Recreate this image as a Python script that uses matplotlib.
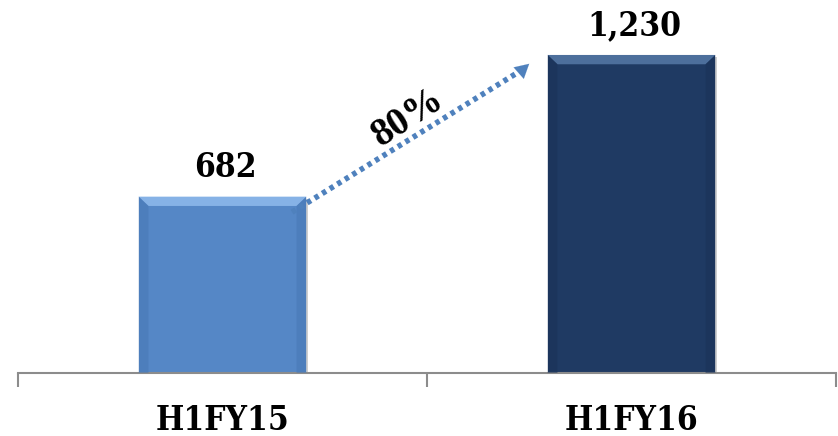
# Half-year comparison bar chart with growth arrow
import numpy as np
import matplotlib.pyplot as plt
from matplotlib.patches import Polygon, Rectangle

categories = ["H1FY15", "H1FY16"]
values = [682, 1230]
value_labels = ["682", "1,230"]

bar_colors = ["#5587c6", "#1f3a63"]
bevel_top = ["#86b2e6", "#4d6f9c"]
bevel_side = ["#4676b3", "#1a3257"]
arrow_color = "#4f81bd"

growth = (values[1] / values[0] - 1) * 100

fig = plt.figure(figsize=(8.38, 4.36), dpi=100)
ax = fig.add_axes([18 / 838, 63 / 436, 818 / 838, 362 / 436])

x = np.arange(len(categories))
width = 0.41
bars = ax.bar(x, values, width=width, color=bar_colors, zorder=2)

# bevel edges and soft shadow on each bar
bx = 0.024
by = 36
for i, b in enumerate(bars):
    x0, x1 = b.get_x(), b.get_x() + b.get_width()
    top = b.get_height()
    ax.add_patch(Rectangle((x0 + 0.004, 0), x1 - x0, top - 8, color="#b0b0b0",
                           lw=0, zorder=1, alpha=0.6))
    ax.add_patch(Polygon([(x0, top), (x1, top), (x1 - bx, top - by), (x0 + bx, top - by)],
                         closed=True, color=bevel_top[i], lw=0, zorder=3))
    ax.add_patch(Polygon([(x0, 0), (x0, top), (x0 + bx, top - by), (x0 + bx, 0)],
                         closed=True, color=bevel_side[i], lw=0, zorder=3, alpha=0.5))
    ax.add_patch(Polygon([(x1, 0), (x1, top), (x1 - bx, top - by), (x1 - bx, 0)],
                         closed=True, color=bevel_side[i], lw=0, zorder=3, alpha=0.5))
    ax.annotate(value_labels[i], (x[i], top), xytext=(2, 9), textcoords="offset points",
                ha="center", va="bottom", fontsize=24, fontweight="bold",
                family="DejaVu Serif", fontstretch="condensed")

# growth arrow between the bar tops
x_start = bars[0].get_x() + bars[0].get_width() - 0.035
y_start = values[0] - 60
x_end = bars[1].get_x() - 0.04
y_end = values[1] - 27
ax.plot([x_start, x_end - 0.02], [y_start, y_end - 28], color=arrow_color, lw=4,
        linestyle=(0, (0.8, 0.8)), zorder=4, solid_capstyle="butt")
ax.annotate("", xy=(x_end, y_end), xytext=(x_end - 0.03, y_end - 42),
            arrowprops=dict(arrowstyle="-|>,head_length=1.0,head_width=0.55",
                            color=arrow_color, lw=0.1), zorder=4)
ax.text(0.455, 985, f"{growth:.0f}%", rotation=33, ha="center", va="center",
        fontsize=28, fontweight="bold", family="Liberation Serif", zorder=5)

ax.set_xlim(-0.5, 1.5)
ax.set_ylim(0, 1400)
ax.set_xticks(x)
ax.set_xticklabels(categories, fontsize=24, fontweight="bold",
                   family="DejaVu Serif", fontstretch="condensed")
ax.tick_params(axis="x", which="major", length=0, pad=22)
ax.set_xticks([-0.5, 0.5, 1.5], minor=True)
ax.tick_params(axis="x", which="minor", length=10, width=1.5, color="#8c8c8c")
ax.set_yticks([])
for s in ["top", "left", "right"]:
    ax.spines[s].set_visible(False)
ax.spines["bottom"].set_color("#8c8c8c")
ax.spines["bottom"].set_linewidth(1.5)

fig.savefig("out.png", dpi=100)
